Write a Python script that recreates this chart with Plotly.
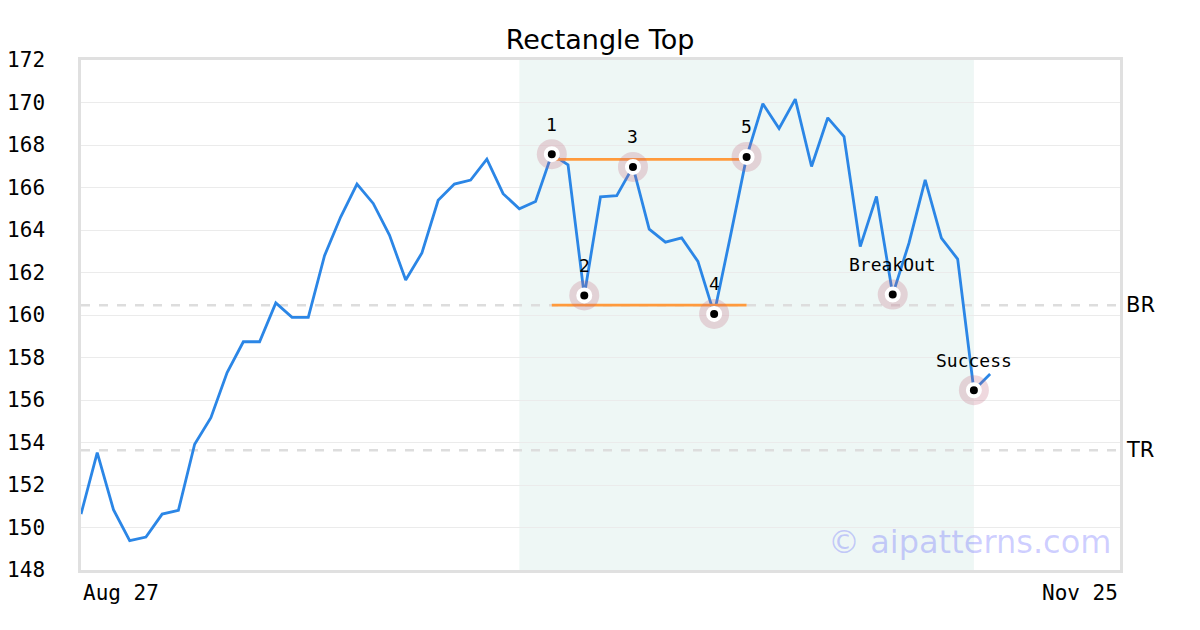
import plotly.graph_objects as go

# closing prices, one per trading day from Aug 27
close = [150.63, 153.52, 150.84, 149.38, 149.55, 150.63, 150.81, 153.92, 155.17, 157.29,
         158.74, 158.74, 160.57, 159.89, 159.89, 162.79, 164.62, 166.16, 165.25, 163.76,
         161.65, 162.92, 165.40, 166.16, 166.35, 167.33, 165.71, 165.00, 165.34, 167.57,
         167.07, 160.92, 165.56, 165.62, 166.97, 164.04, 163.43, 163.63, 162.52, 160.05,
         163.70, 167.44, 169.94, 168.78, 170.16, 166.99, 169.28, 168.40, 163.22, 165.58,
         160.96, 163.38, 166.36, 163.62, 162.63, 156.46, 157.22]
days = list(range(len(close)))

# pattern points (index into close) and their labels
pivot_idx = [29, 31, 34, 39, 41, 50, 55]
pivot_labels = ['1', '2', '3', '4', '5', 'BreakOut', 'Success']

# rectangle bounds
rect_start, rect_end = 29, 41
rect_top = 167.32
rect_bottom = 160.46
zone_start, zone_end = 27, 55

# levels
BR = 160.46
TR = 153.63

axis_end = 64
x_tick_labels = ['Aug 27', 'Nov 25']

MONO = 'DejaVu Sans Mono'
SANS = 'DejaVu Sans'

fig = go.Figure()

fig.add_trace(go.Scatter(
    x=days, y=close, mode='lines',
    line=dict(color='#2b86e6', width=2.8),
    hoverinfo='skip', showlegend=False,
))

fig.add_trace(go.Scatter(
    x=[rect_start, rect_end], y=[rect_top, rect_top], mode='lines',
    line=dict(color='#ff9a3c', width=2.8), showlegend=False,
))
fig.add_trace(go.Scatter(
    x=[rect_start, rect_end], y=[rect_bottom, rect_bottom], mode='lines',
    line=dict(color='#ff9a3c', width=2.8), showlegend=False,
))

px = pivot_idx
py = [close[i] for i in pivot_idx]
fig.add_trace(go.Scatter(
    x=px, y=py, mode='markers',
    marker=dict(size=30, color='rgba(190,100,125,0.25)'),
    showlegend=False,
))
fig.add_trace(go.Scatter(
    x=px, y=py, mode='markers',
    marker=dict(size=12, color='black', line=dict(color='white', width=4)),
    showlegend=False,
))

for i, lab in zip(pivot_idx, pivot_labels):
    fig.add_annotation(x=i, y=close[i], text=lab, showarrow=False,
                       yshift=30, font=dict(family=MONO, size=18, color='black'))

# green zone + level lines
fig.add_shape(type='rect', xref='x', yref='paper', x0=zone_start, x1=zone_end,
              y0=0, y1=1, fillcolor='rgba(0,140,100,0.065)', line_width=0, layer='below')
for lvl, name in [(BR, 'BR'), (TR, 'TR')]:
    fig.add_shape(type='line', xref='paper', yref='y', x0=0, x1=1, y0=lvl, y1=lvl,
                  line=dict(color='#dddddd', width=2.5, dash='dash'), layer='below')
    fig.add_annotation(xref='paper', yref='y', x=1.004, y=lvl, text=name, showarrow=False,
                       xanchor='left', font=dict(family=SANS, size=21, color='black'))

# x labels at both ends
fig.add_annotation(xref='paper', yref='paper', x=0, y=-0.018, text=x_tick_labels[0],
                   showarrow=False, xanchor='left', yanchor='top',
                   font=dict(family=MONO, size=21, color='black'))
fig.add_annotation(xref='paper', yref='paper', x=1, y=-0.018, text=x_tick_labels[1],
                   showarrow=False, xanchor='right', yanchor='top',
                   font=dict(family=MONO, size=21, color='black'))

fig.add_annotation(xref='paper', yref='paper', x=0.993, y=0.055, text='© aipatterns.com',
                   showarrow=False, xanchor='right', yanchor='middle',
                   font=dict(family=SANS, size=32, color='rgba(60,60,255,0.25)'))

# page body has an 8px margin, so the figure is sized to fit inside the window
fig.update_layout(
    width=1184, height=614,
    margin=dict(l=73, r=72, t=52, b=52),
    paper_bgcolor='white', plot_bgcolor='white',
    title=dict(text='Rectangle Top', x=0.5, xanchor='center', y=0.948, yanchor='middle',
               font=dict(family=SANS, size=27, color='black')),
    xaxis=dict(range=[0, axis_end], showgrid=False, zeroline=False, showticklabels=False,
               showline=True, linecolor='#e0e0e0', linewidth=2.5, mirror=True,
               automargin=False),
    yaxis=dict(range=[148, 172], dtick=2, showgrid=True, gridcolor='#ebebeb', gridwidth=1,
               zeroline=False, showline=True, linecolor='#e0e0e0', linewidth=2.5, mirror=True,
               tickfont=dict(family=MONO, size=21, color='black'), ticklabelstandoff=29,
               automargin=False),
)

fig.write_html('out.html')
